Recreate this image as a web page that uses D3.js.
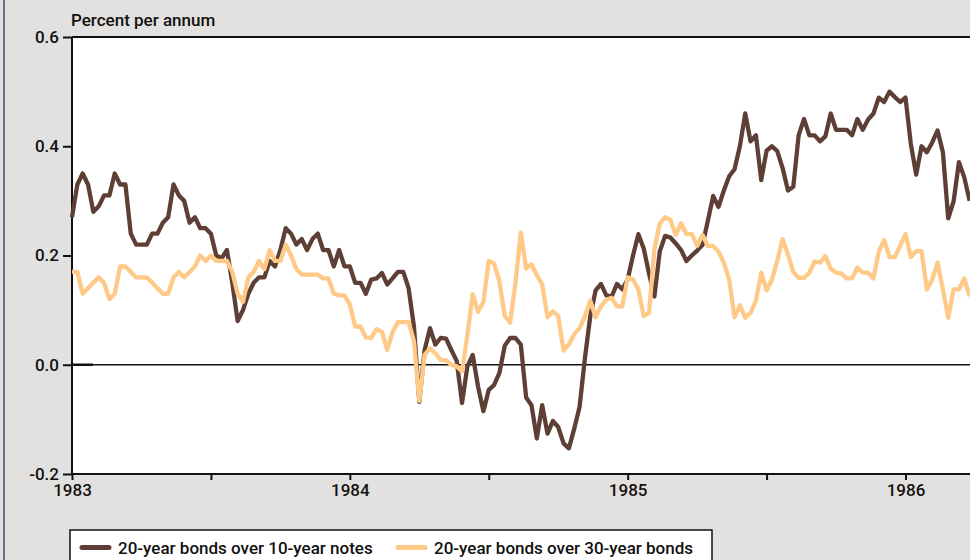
<!DOCTYPE html>
<html lang="en">
<head>
<meta charset="UTF-8">
<title>Bond spreads</title>
<script src="https://d3js.org/d3.v7.min.js"></script>
<style>
  body { margin: 0; background: #e3e1df; }
  svg { display: block; font-family: Roboto, "Liberation Sans", Arial, sans-serif; font-weight: 500; }
  .axis text { font-size: 17px; fill: #111; font-family: Roboto, "Liberation Sans", Arial, sans-serif; }
  .axis path, .axis line { stroke: #111; stroke-width: 2; }
</style>
</head>
<body>
<svg width="970" height="560"></svg>
<script>
// weekly observations, first week of 1983 onwards
const startYear = 1983;
const perYear = 52;

// 20-year bonds over 10-year notes (percent per annum)
const bondsOverNotes = [
  0.27, 0.33, 0.35, 0.33, 0.28, 0.29, 0.31, 0.31, 0.35, 0.33,
  0.33, 0.24, 0.22, 0.22, 0.22, 0.24, 0.24, 0.26, 0.27, 0.33,
  0.31, 0.30, 0.26, 0.27, 0.25, 0.25, 0.24, 0.20, 0.195, 0.21,
  0.15, 0.08, 0.10, 0.13, 0.15, 0.16, 0.16, 0.19, 0.18, 0.21,
  0.25, 0.24, 0.22, 0.23, 0.21, 0.23, 0.24, 0.21, 0.21, 0.18,
  0.21, 0.18, 0.18, 0.15, 0.15, 0.13, 0.156, 0.158, 0.168, 0.147,
  0.158, 0.17, 0.17, 0.14, 0.07, -0.068, 0.027, 0.067, 0.037, 0.049,
  0.048, 0.027, 0.007, -0.07, -0.003, 0.018, -0.04, -0.085, -0.046, -0.037,
  -0.015, 0.035, 0.049, 0.049, 0.037, -0.06, -0.074, -0.135, -0.074, -0.126,
  -0.103, -0.114, -0.144, -0.153, -0.117, -0.077, 0.012, 0.089, 0.136, 0.148,
  0.127, 0.125, 0.148, 0.138, 0.156, 0.20, 0.239, 0.213, 0.167, 0.125,
  0.207, 0.236, 0.233, 0.222, 0.21, 0.19, 0.20, 0.209, 0.219, 0.263,
  0.309, 0.289, 0.319, 0.345, 0.358, 0.40, 0.46, 0.409, 0.42, 0.338,
  0.392, 0.40, 0.391, 0.36, 0.319, 0.326, 0.42, 0.45, 0.42, 0.42,
  0.409, 0.418, 0.46, 0.43, 0.43, 0.43, 0.42, 0.45, 0.43, 0.449,
  0.46, 0.489, 0.481, 0.50, 0.49, 0.481, 0.489, 0.404, 0.348, 0.40,
  0.389, 0.407, 0.429, 0.389, 0.268, 0.299, 0.371, 0.343, 0.30
];

// 20-year bonds over 30-year bonds (percent per annum)
const bondsOverLongBonds = [
  0.17, 0.17, 0.13, 0.14, 0.15, 0.16, 0.15, 0.12, 0.13, 0.18,
  0.18, 0.17, 0.16, 0.16, 0.16, 0.15, 0.14, 0.13, 0.13, 0.16,
  0.17, 0.16, 0.17, 0.18, 0.20, 0.19, 0.20, 0.19, 0.19, 0.19,
  0.17, 0.13, 0.115, 0.16, 0.17, 0.19, 0.175, 0.21, 0.19, 0.19,
  0.22, 0.20, 0.175, 0.165, 0.165, 0.165, 0.165, 0.158, 0.158, 0.13,
  0.127, 0.127, 0.11, 0.07, 0.07, 0.05, 0.049, 0.065, 0.06, 0.027,
  0.06, 0.078, 0.078, 0.078, 0.043, -0.066, 0.018, 0.03, 0.021, 0.009,
  0.008, 0.0, -0.003, -0.012, 0.054, 0.129, 0.097, 0.115, 0.19, 0.185,
  0.152, 0.089, 0.077, 0.15, 0.242, 0.176, 0.184, 0.164, 0.147, 0.087,
  0.098, 0.089, 0.026, 0.037, 0.056, 0.067, 0.089, 0.1175, 0.087, 0.107,
  0.119, 0.1225, 0.107, 0.107, 0.16, 0.156, 0.138, 0.089, 0.095, 0.211,
  0.2585, 0.27, 0.265, 0.238, 0.259, 0.239, 0.239, 0.2175, 0.2377, 0.2175,
  0.2175, 0.207, 0.187, 0.156, 0.087, 0.109, 0.086, 0.095, 0.1175, 0.1685,
  0.136, 0.156, 0.19, 0.23, 0.202, 0.17, 0.159, 0.159, 0.1685, 0.189,
  0.187, 0.199, 0.176, 0.1685, 0.167, 0.158, 0.158, 0.178, 0.1685, 0.1685,
  0.158, 0.207, 0.228, 0.197, 0.197, 0.2175, 0.239, 0.197, 0.208, 0.208,
  0.138, 0.156, 0.187, 0.138, 0.086, 0.138, 0.138, 0.158, 0.125
];

const yTicks = [-0.2, 0, 0.2, 0.4, 0.6];
const yearTicks = [1983, 1984, 1985, 1986];
const halfYearTicks = [1983.5, 1984.5, 1985.5];
const seriesNames = ["20-year bonds over 10-year notes", "20-year bonds over 30-year bonds"];
const colors = ["#5d3f36", "#ffc987"];

const svg = d3.select("svg");
const margin = { top: 37, left: 72, bottom: 86 };
const height = 560;

// x in fractional years
const x = d3.scaleLinear()
    .domain([1983, 1986])
    .range([margin.left, 905.5]);

const y = d3.scaleLinear()
    .domain([-0.2, 0.6])
    .range([height - margin.bottom, margin.top]);

const plotRight = 1000;

// left edge rule
svg.append("line")
    .attr("x1", 4).attr("x2", 4)
    .attr("y1", 0).attr("y2", height)
    .attr("stroke", "#4b4a66")
    .attr("stroke-width", 1.5);

// white plot area
svg.append("rect")
    .attr("x", margin.left)
    .attr("y", margin.top)
    .attr("width", plotRight - margin.left)
    .attr("height", y(-0.2) - margin.top)
    .attr("fill", "#fff");

// top border
svg.append("line")
    .attr("x1", margin.left).attr("x2", plotRight)
    .attr("y1", margin.top).attr("y2", margin.top)
    .attr("stroke", "#111").attr("stroke-width", 2);

// zero line
svg.append("line")
    .attr("x1", margin.left).attr("x2", plotRight)
    .attr("y1", y(0)).attr("y2", y(0))
    .attr("stroke", "#111").attr("stroke-width", 1.6);
svg.append("line")
    .attr("x1", margin.left).attr("x2", margin.left + 21)
    .attr("y1", y(0)).attr("y2", y(0))
    .attr("stroke", "#111").attr("stroke-width", 2.5);

// axes
const yAxis = d3.axisLeft(y)
    .tickValues(yTicks)
    .tickFormat(d => d.toFixed(1))
    .tickSize(9)
    .tickPadding(4);

svg.append("g")
    .attr("class", "axis")
    .attr("transform", `translate(${margin.left},0)`)
    .call(yAxis)
    .call(g => g.select(".domain").attr("d", `M0,${y(-0.2)}V${margin.top}`));

const xAxis = d3.axisBottom(x)
    .tickValues(yearTicks.concat(halfYearTicks))
    .tickFormat(d => Number.isInteger(d) ? d : "")
    .tickSize(6)
    .tickPadding(4);

svg.append("g")
    .attr("class", "axis")
    .attr("transform", `translate(0,${y(-0.2)})`)
    .call(xAxis)
    .call(g => g.select(".domain").attr("d", `M${margin.left},0H${plotRight}`));

// y title
svg.append("text")
    .attr("x", margin.left - 1)
    .attr("y", 26)
    .attr("font-size", 17)
    .attr("fill", "#111")
    .text("Percent per annum");

// lines
const line = d3.line()
    .x((d, i) => x(startYear + i / perYear))
    .y(d => y(d));

[bondsOverNotes, bondsOverLongBonds].forEach((series, k) => {
    svg.append("path")
        .datum(series)
        .attr("fill", "none")
        .attr("stroke", colors[k])
        .attr("stroke-width", 4.3)
        .attr("stroke-linejoin", "round")
        .attr("d", line);
});

// legend
const legend = svg.append("g");
legend.append("rect")
    .attr("x", 70)
    .attr("y", 530)
    .attr("width", 642)
    .attr("height", 40)
    .attr("fill", "#fff")
    .attr("stroke", "#111")
    .attr("stroke-width", 1.5);

const legendX = [82, 398];
seriesNames.forEach((name, k) => {
    legend.append("line")
        .attr("x1", legendX[k]).attr("x2", legendX[k] + 27)
        .attr("y1", 547.5).attr("y2", 547.5)
        .attr("stroke", colors[k])
        .attr("stroke-width", 5)
        .attr("stroke-linecap", "round");
    legend.append("text")
        .attr("x", legendX[k] + 36)
        .attr("y", 554)
        .attr("font-size", 17)
        .attr("fill", "#111")
        .text(name);
});
</script>
</body>
</html>
